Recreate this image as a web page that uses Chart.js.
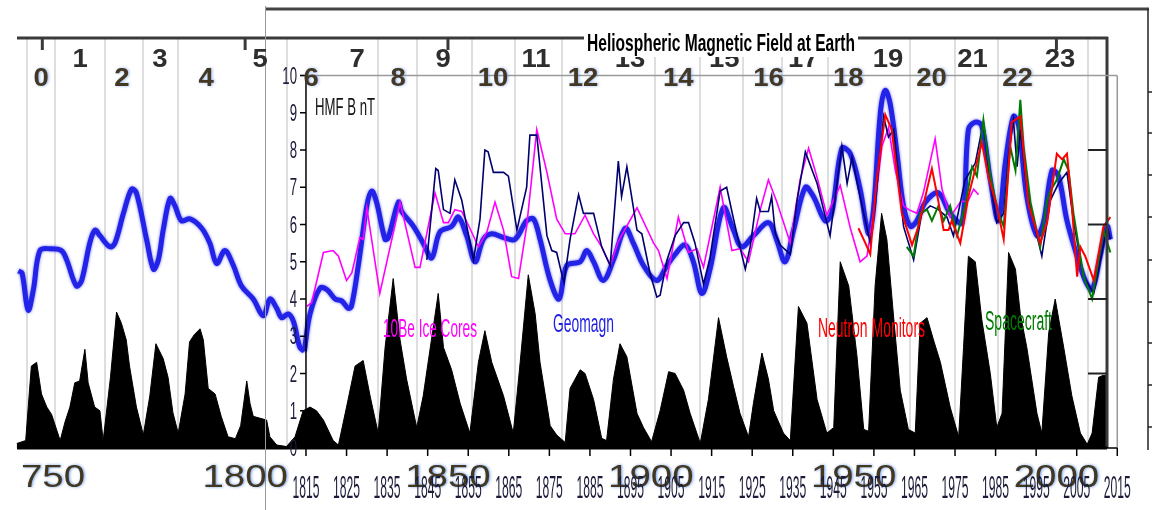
<!DOCTYPE html>
<html lang="en">
<head>
  <meta charset="UTF-8" />
  <title>Heliospheric Magnetic Field at Earth</title>
  <script src="https://cdn.jsdelivr.net/npm/chart.js"></script>
  <style>
    html, body { margin: 0; padding: 0; background: #fff; }
    canvas { display: block; }
  </style>
</head>
<body>
  <canvas id="hmfChart" width="1152" height="510"></canvas>

  <script>
    // ---- data (years, and values on the HMF nT axis) ----

    // sunspot activity, drawn as the black area (scaled onto the nT axis)
    const sunspotYears = [1743.7, 1745.9, 1747.3, 1748.6, 1749.8, 1751.1, 1752.3, 1754.4, 1755.6, 1756.8,
      1758.0, 1759.2, 1760.5, 1761.3, 1762.9, 1764.2, 1765.0, 1766.8, 1768.3, 1769.5,
      1770.7, 1771.5, 1773.2, 1774.9, 1776.5, 1778.0, 1779.8, 1781.0, 1782.2, 1783.5,
      1785.2, 1786.3, 1787.5, 1788.9, 1789.7, 1790.9, 1792.6, 1794.1, 1795.8, 1797.6,
      1798.9, 1800.4, 1801.2, 1802.0, 1805.3, 1806.1, 1807.8, 1810.2, 1812.3, 1814.3,
      1816.0, 1817.6, 1819.3, 1821.7, 1823.0, 1825.0, 1827.1, 1829.1, 1830.8, 1832.8,
      1834.5, 1836.5, 1838.2, 1839.8, 1842.3, 1843.9, 1847.6, 1848.9, 1850.9, 1853.0,
      1855.4, 1857.5, 1859.1, 1860.8, 1863.7, 1866.1, 1867.8, 1869.8, 1871.5, 1872.7,
      1875.2, 1876.8, 1878.9, 1880.1, 1882.6, 1883.8, 1885.9, 1887.9, 1889.1, 1890.8,
      1892.4, 1894.1, 1896.6, 1898.2, 1900.2, 1902.3, 1904.4, 1906.0, 1908.1, 1909.7,
      1912.2, 1914.2, 1916.7, 1918.7, 1920.4, 1922.0, 1924.1, 1925.3, 1927.4, 1929.0,
      1930.3, 1932.7, 1934.4, 1936.4, 1938.5, 1941.0, 1943.4, 1945.1, 1946.7, 1948.8,
      1950.8, 1952.5, 1953.7, 1955.3, 1956.9, 1958.2, 1959.8, 1961.5, 1963.5, 1965.2,
      1966.4, 1968.1, 1969.7, 1971.4, 1973.8, 1975.9, 1977.1, 1978.3, 1980.0, 1981.6,
      1983.7, 1985.3, 1986.6, 1988.2, 1989.9, 1991.1, 1992.7, 1995.2, 1996.4, 1998.1,
      1999.7, 2001.8, 2003.8, 2005.9, 2007.6, 2008.8, 2010.4, 2011.5, 2012.2, 2012.25];
    const sunspotLevel = [0.12, 0.2, 2.2, 2.3, 1.45, 1.1, 0.9, 0.2, 0.7, 1.1,
      1.75, 1.8, 2.65, 1.75, 1.1, 1.0, 0.2, 1.9, 3.65, 3.35,
      2.9, 2.2, 1.1, 0.35, 1.4, 2.8, 2.4, 1.9, 0.95, 0.4,
      1.45, 2.85, 3.05, 3.2, 2.9, 1.6, 1.45, 0.85, 0.3, 0.25,
      0.6, 1.8, 1.2, 0.85, 0.75, 0.3, 0.08, 0.04, 0.3, 1.0,
      1.1, 1.0, 0.75, 0.2, 0.08, 1.1, 2.2, 2.35, 1.4, 0.4,
      2.7, 4.55, 2.9, 1.85, 0.55, 1.4, 4.15, 2.7, 2.1, 1.2,
      0.4, 2.3, 3.15, 2.3, 1.4, 0.4, 2.3, 4.65, 3.6, 2.3,
      0.6, 0.35, 0.15, 1.6, 2.1, 2.0, 1.3, 0.26, 0.2, 1.85,
      2.8, 2.45, 0.93, 0.55, 0.17, 1.0, 2.05, 2.0, 1.55, 0.93,
      0.13, 1.3, 3.5, 2.45, 1.65, 0.93, 0.3, 1.2, 2.55, 1.85,
      1.0, 0.4, 0.2, 3.8, 3.35, 1.3, 0.4, 0.55, 5.0, 4.35,
      2.5, 0.5, 0.45, 4.35, 6.3, 5.6, 3.6, 1.55, 0.5, 0.4,
      3.35, 3.5, 2.9, 2.3, 1.1, 0.3, 2.7, 5.15, 5.0, 3.45,
      2.0, 0.55, 0.93, 5.25, 4.8, 3.6, 2.7, 0.93, 0.4, 3.1,
      4.0, 2.7, 1.4, 0.4, 0.1, 0.4, 1.9, 1.95, 1.95, 0];

    // long reconstruction before 1815 (thick blue, left chart)
    const earlyYears = [1744.1, 1745.0, 1746.5, 1747.8, 1749.4, 1751.9, 1754.7, 1756.0, 1758.4, 1759.7,
      1761.7, 1763.0, 1764.2, 1766.7, 1767.9, 1770.0, 1772.0, 1773.2, 1775.7, 1777.4,
      1778.6, 1779.8, 1781.5, 1782.7, 1784.3, 1786.4, 1789.3, 1791.3, 1793.0, 1795.0,
      1797.1, 1799.1, 1802.0, 1804.5, 1806.1, 1807.8, 1809.0, 1810.6, 1811.9, 1813.5, 1814.6];
    const earlyHmf = [4.75, 4.7, 3.7, 4.25, 5.3, 5.35, 5.3, 5.05, 4.35, 4.5,
      5.5, 5.85, 5.7, 5.4, 5.5, 6.3, 6.95, 6.85, 5.6, 4.8,
      5.05, 5.85, 6.7, 6.5, 6.1, 6.15, 5.9, 5.5, 4.95, 5.3,
      4.9, 4.35, 4.0, 3.55, 4.0, 3.75, 3.5, 3.6, 3.4, 2.7, 2.6];

    // Geomagn (thick blue)
    const geomagnYears = [1814.6, 1816.0, 1818.5, 1820.2, 1822.2, 1823.8, 1825.4, 1826.2, 1827.9, 1830.0,
      1831.2, 1832.4, 1834.5, 1835.3, 1837.8, 1838.6, 1841.5, 1843.9, 1846.0, 1848.0,
      1850.9, 1852.6, 1854.6, 1856.7, 1858.7, 1860.8, 1863.7, 1866.5, 1869.4, 1871.1,
      1872.7, 1875.2, 1877.4, 1879.3, 1882.6, 1884.2, 1885.9, 1888.3, 1890.8, 1893.7,
      1895.7, 1898.2, 1901.5, 1904.0, 1906.0, 1908.5, 1910.5, 1912.6, 1914.6, 1917.9,
      1920.4, 1922.4, 1925.3, 1929.0, 1931.0, 1933.1, 1935.2, 1938.1, 1940.1, 1943.0,
      1944.6, 1947.1, 1949.2, 1951.6, 1953.7, 1954.9, 1956.6, 1957.8, 1959.0, 1960.7,
      1962.3, 1964.0, 1965.6, 1967.7, 1970.9, 1973.8, 1976.7, 1978.3, 1980.0, 1981.6,
      1983.7, 1985.7, 1987.4, 1989.4, 1990.7, 1992.7, 1995.2, 1996.8, 1998.9, 2000.5,
      2002.6, 2005.1, 2007.1, 2008.8, 2010.8, 2012.5, 2013.3];
    const geomagnHmf = [2.6, 3.6, 4.3, 4.25, 4.0, 3.95, 3.75, 3.8, 4.9, 6.5,
      6.9, 6.6, 5.6, 5.65, 6.6, 6.35, 5.95, 5.5, 5.1, 5.8,
      5.95, 6.2, 5.7, 5.0, 5.6, 5.75, 5.65, 5.6, 6.1, 6.15,
      5.6, 4.5, 4.0, 4.9, 5.0, 5.3, 5.0, 4.5, 5.05, 5.9,
      5.5, 4.9, 4.5, 4.9, 5.2, 5.45, 5.0, 4.15, 4.8, 6.45,
      5.85, 5.4, 5.7, 6.05, 5.6, 5.0, 5.85, 7.0, 6.75, 6.1,
      6.3, 8.05, 7.9, 6.95, 5.75, 6.4, 9.0, 9.6, 9.25, 7.9,
      6.5, 5.95, 6.1, 6.6, 6.85, 6.3, 6.05, 8.55, 8.75, 8.65,
      7.2, 6.1, 7.65, 8.9, 8.65, 6.75, 5.7, 6.05, 7.45, 7.3,
      6.1, 5.15, 4.5, 4.25, 5.15, 5.95, 5.6];

    // thin dark-blue geomagnetic series
    const geoRawYears = [1844.8, 1847.0, 1847.6, 1848.9, 1850.5, 1851.7, 1853.4, 1855.0, 1856.3, 1857.9,
      1859.1, 1859.9, 1861.2, 1863.7, 1864.9, 1867.0, 1869.4, 1870.2, 1871.9, 1874.4,
      1875.6, 1876.8, 1878.2, 1878.6, 1880.1, 1882.2, 1883.4, 1885.9, 1887.9, 1890.0,
      1892.0, 1892.8, 1894.1, 1896.6, 1897.8, 1899.8, 1901.5, 1902.3, 1904.0, 1906.0,
      1908.1, 1909.3, 1910.9, 1913.0, 1914.6, 1917.1, 1918.7, 1921.2, 1923.3, 1924.5,
      1926.1, 1927.0, 1929.0, 1929.8, 1930.7, 1931.9, 1934.4, 1936.0, 1938.1, 1941.0,
      1943.4, 1944.2, 1947.1, 1948.4, 1949.6, 1951.6, 1954.1, 1955.3, 1957.4, 1958.6,
      1959.9, 1962.3, 1964.8, 1966.8, 1968.9, 1970.9, 1973.0, 1974.6, 1977.5, 1980.0,
      1982.0, 1983.7, 1985.3, 1987.0, 1988.2, 1989.4, 1990.3, 1991.1, 1992.7, 1995.2,
      1996.4, 1998.5, 2000.5, 2002.6, 2004.2, 2006.7, 2009.2, 2012.5, 2013.3];
    const geoRawHmf = [5.05, 7.5, 7.45, 6.4, 6.3, 7.2, 6.65, 5.75, 5.05, 6.15,
      8.0, 7.95, 7.4, 7.4, 7.3, 5.85, 7.0, 8.4, 8.4, 5.7,
      5.3, 5.25, 4.6, 4.45, 5.6, 6.8, 6.3, 6.3, 5.4, 4.9,
      7.7, 6.75, 7.55, 5.85, 5.75, 4.7, 4.05, 4.1, 5.05, 5.7,
      6.05, 6.05, 5.5, 4.4, 5.1, 6.9, 7.0, 5.75, 4.8, 5.4,
      6.7, 6.35, 6.35, 6.75, 5.75, 5.45, 5.2, 6.6, 7.95, 7.1,
      6.05, 5.7, 8.1, 7.1, 7.8, 6.75, 5.5, 6.5, 8.9, 8.35,
      8.55, 5.95, 5.05, 6.3, 6.5, 6.4, 6.2, 5.7, 7.2, 7.65,
      8.75, 7.1, 6.05, 6.3, 7.85, 8.8, 7.55, 8.55, 6.95, 5.7,
      5.15, 6.65, 7.1, 7.4, 6.1, 4.6, 4.15, 5.95, 5.6];

    // 10Be Ice Cores (magenta)
    const beYears = [1815.2, 1816.4, 1819.3, 1821.7, 1823.0, 1825.0, 1826.3, 1828.3, 1829.1, 1830.0,
      1833.2, 1838.2, 1841.9, 1843.1, 1846.8, 1848.9, 1850.1, 1851.7, 1853.4, 1855.4,
      1857.5, 1859.6, 1861.6, 1863.7, 1865.7, 1867.4, 1869.4, 1871.9, 1874.4, 1876.8,
      1878.9, 1881.3, 1883.8, 1885.9, 1887.9, 1890.0, 1892.0, 1896.6, 1900.7, 1901.9,
      1904.0, 1906.8, 1909.3, 1911.4, 1913.0, 1917.1, 1920.0, 1922.0, 1924.1, 1927.0,
      1929.0, 1931.1, 1934.4, 1936.8, 1938.9, 1940.9, 1943.4, 1946.7, 1949.2, 1951.6,
      1953.3, 1955.3, 1957.0, 1958.6, 1960.3, 1962.3, 1963.6, 1965.6, 1967.2, 1970.1,
      1971.8, 1973.8, 1976.3, 1978.3, 1979.6, 1980.8];
    const beHmf = [3.8, 3.9, 5.25, 5.3, 5.15, 4.5, 4.7, 5.65, 5.6, 6.45,
      4.15, 6.6, 4.85, 4.85, 6.85, 6.05, 6.05, 6.4, 6.35, 5.9,
      5.4, 5.8, 6.6, 5.85, 4.6, 4.55, 5.95, 8.55, 7.4, 6.15,
      5.75, 5.75, 6.25, 5.75, 5.4, 4.9, 5.55, 6.45, 5.5, 5.3,
      4.55, 6.2, 5.25, 5.35, 4.85, 7.0, 5.3, 5.35, 5.0, 6.4,
      7.2, 6.6, 5.5, 7.2, 8.05, 7.3, 6.25, 7.05, 5.9, 5.0,
      5.15, 6.6, 8.1, 8.6, 7.45, 6.5, 6.4, 6.3, 6.85, 8.3,
      6.95, 6.2, 6.6, 6.65, 6.95, 6.8];

    // Neutron Monitors (red)
    const neutronYears = [1951.2, 1952.9, 1954.1, 1955.7, 1957.8, 1959.4, 1961.9, 1964.4, 1966.0, 1968.1,
      1969.3, 1970.5, 1972.2, 1973.4, 1974.2, 1976.3, 1978.3, 1981.6, 1983.3, 1985.3,
      1987.0, 1989.0, 1991.1, 1993.1, 1996.0, 1997.7, 2000.1, 2001.4, 2002.6, 2003.8,
      2005.1, 2005.9, 2007.1, 2009.2, 2011.6, 2013.3];
    const neutronHmf = [5.9, 5.5, 5.2, 7.2, 8.95, 8.55, 6.3, 5.45, 5.95, 6.95,
      7.5, 6.85, 5.85, 5.85, 6.1, 5.5, 6.75, 8.2, 7.25, 6.5,
      5.6, 8.75, 8.9, 6.55, 5.5, 6.05, 7.9, 7.75, 7.9, 6.5,
      4.6, 5.4, 5.15, 4.5, 5.95, 6.2];

    // Spacecraft (green)
    const spacecraftYears = [1963.1, 1964.8, 1966.4, 1968.1, 1969.3, 1970.9, 1972.2, 1973.8, 1975.5, 1977.5,
      1979.2, 1980.4, 1982.0, 1983.7, 1985.7, 1987.0, 1988.6, 1989.9, 1991.1, 1991.9,
      1993.6, 1996.0, 1997.7, 1998.5, 2000.1, 2001.8, 2003.0, 2004.2, 2006.7, 2008.8,
      2011.6, 2013.3];
    const spacecraftHmf = [5.4, 5.15, 6.3, 6.4, 6.1, 6.5, 6.1, 6.5, 5.7, 6.5,
      7.55, 7.3, 8.8, 7.3, 6.3, 5.95, 8.1, 7.45, 9.35, 8.1,
      6.6, 5.4, 6.65, 6.9, 7.2, 7.75, 7.45, 6.3, 4.6, 4.0,
      5.85, 5.25];

    // solar cycle numbers and where they sit
    const cycleNumbers = ['0', '1', '2', '3', '4', '5', '6', '7', '8', '9', '10', '11',
      '12', '13', '14', '15', '16', '17', '18', '19', '20', '21', '22', '23'];
    const cycleYears = [1749.7, 1759.3, 1769.6, 1779.0, 1790.4, 1803.7, 1816.3, 1827.6, 1837.7, 1848.8,
      1861.1, 1871.7, 1883.3, 1894.9, 1906.8, 1918.1, 1929.0, 1937.6, 1948.7, 1958.5,
      1969.2, 1979.3, 1990.4, 2000.9];

    // faint grid lines of the long chart (cycle minima)
    const minimaYears = [1746.2, 1753.1, 1765.4, 1774.8, 1783.4, 1810.3, 1832.8, 1842.4, 1855.9, 1866.5,
      1878.1, 1901.1, 1912.2, 1922.8, 1932.4, 1943.7, 1964.0, 1975.0, 1985.7, 2007.8];

    // axis labels
    const centuryLabels = ['1750', '1800', '1850', '1900', '1950', '2000'];
    const decadeLabels = ['1815', '1825', '1835', '1845', '1855', '1865', '1875', '1885', '1895', '1905',
      '1915', '1925', '1935', '1945', '1955', '1965', '1975', '1985', '1995', '2005', '2015'];
    const hmfTicks = [0, 1, 2, 3, 4, 5, 6, 7, 8, 9, 10];
    const rightAxisTicks = [2, 4, 6, 8];

    // ---- helpers ----
    const pts = (xs, ys) => xs.map((v, i) => ({ x: v, y: ys[i] }));
    const FONT = '"Liberation Sans", Arial, sans-serif';

    // draws text squeezed/stretched horizontally, either to a width or by a factor
    function drawText(ctx, text, x, y, o) {
      ctx.save();
      ctx.font = o.font;
      ctx.fillStyle = o.color || '#000';
      ctx.textBaseline = 'alphabetic';
      ctx.textAlign = o.align || 'left';
      let sx = o.sx || 1;
      if (o.width) sx = o.width / ctx.measureText(text).width;
      if (o.shadow) {
        ctx.shadowColor = o.shadow;
        ctx.shadowBlur = 3;
        ctx.shadowOffsetX = 1;
      }
      ctx.translate(x, y);
      ctx.scale(sx, 1);
      ctx.fillText(text, 0, 0);
      ctx.restore();
    }

    function line(ctx, x1, y1, x2, y2, color, w) {
      ctx.beginPath();
      ctx.strokeStyle = color;
      ctx.lineWidth = w;
      ctx.moveTo(x1, y1);
      ctx.lineTo(x2, y2);
      ctx.stroke();
    }

    // soft glow for the thick blue curves
    const glowPlugin = {
      id: 'glow',
      beforeDatasetDraw(chart, args) {
        const ds = chart.data.datasets[args.index];
        chart.ctx.save();
        if (ds.glow) {
          chart.ctx.shadowColor = 'rgba(40,40,255,0.7)';
          chart.ctx.shadowBlur = 3;
        }
      },
      afterDatasetDraw(chart) {
        chart.ctx.restore();
      }
    };

    const decorPlugin = {
      id: 'decor',
      beforeDatasetsDraw(chart) {
        const { ctx, scales: { x, y } } = chart;
        ctx.save();
        minimaYears.forEach(yr => {
          const px = Math.round(x.getPixelForValue(yr));
          line(ctx, px, 38, px, y.getPixelForValue(0), '#dedede', 2);
        });
        ctx.restore();
      },
      afterDatasetsDraw(chart) {
        const { ctx, scales: { x, y } } = chart;
        const base = y.getPixelForValue(0);
        const top10 = y.getPixelForValue(10);
        const xStart = x.getPixelForValue(1815);
        const xEnd = x.getPixelForValue(2015);
        ctx.save();

        // long chart frame
        line(ctx, 17, 38, 1108, 38, '#3a3a3a', 3);
        line(ctx, 1107, 37, 1107, base, '#3a3a3a', 3);
        line(ctx, 17, base, 1107, base, '#000', 3);
        rightAxisTicks.forEach(v => {
          const py = y.getPixelForValue(v);
          line(ctx, 1088, py, 1107, py, '#222', 2);
        });
        centuryLabels.forEach(t => {
          const px = x.getPixelForValue(+t);
          line(ctx, px, 38, px, 50, '#3a3a3a', 3);
        });

        // HMF chart frame
        line(ctx, 265, 9, 1149, 9, '#444', 3);
        line(ctx, 265.5, 6, 265.5, 510, '#9a9a9a', 1);
        line(ctx, 1148, 9, 1148, 450, '#222', 1.5);
        [92, 133, 175, 217, 260, 302, 343, 385, 427].forEach(py => line(ctx, 1148, py, 1152, py, '#222', 1.5));
        line(ctx, 300, top10, xEnd, top10, '#9a9a9a', 1.5);
        line(ctx, xEnd, top10, xEnd, base, '#9a9a9a', 1.5);
        line(ctx, xStart, top10, xStart, base, '#000', 1.5);
        line(ctx, xStart, base, xEnd, base, '#000', 1.5);
        hmfTicks.forEach(v => {
          const py = y.getPixelForValue(v);
          line(ctx, xStart - 6, py, xStart, py, '#000', 1.5);
        });
        decadeLabels.forEach(t => {
          const px = x.getPixelForValue(+t);
          line(ctx, px, base, px, base + 8, '#000', 1.5);
        });

        // big year labels of the long chart (cropped at its left edge)
        ctx.save();
        ctx.beginPath();
        ctx.rect(21, 0, 1152, 510);
        ctx.clip();
        centuryLabels.forEach(t => {
          drawText(ctx, t, x.getPixelForValue(+t), 487, {
            font: '32px ' + FONT, color: '#43371f', align: 'center', sx: 1.2,
            shadow: 'rgba(70,130,230,0.8)'
          });
        });
        ctx.restore();

        // decade tick labels
        decadeLabels.forEach(t => {
          drawText(ctx, t, x.getPixelForValue(+t), 498, {
            font: '31px ' + FONT, color: '#1c1c3a', align: 'center', width: 27
          });
        });

        // HMF axis labels
        hmfTicks.forEach(v => {
          drawText(ctx, String(v), xStart - 9, y.getPixelForValue(v) + 8, {
            font: '24px ' + FONT, color: '#1c1c3a', align: 'right', sx: 0.55
          });
        });

        // cycle numbers, odd ones on the upper row
        cycleNumbers.forEach((c, i) => {
          const odd = i % 2 === 1;
          drawText(ctx, c, x.getPixelForValue(cycleYears[i]), odd ? 67 : 86, {
            font: 'bold 25px ' + FONT, color: odd ? '#2e2e2e' : '#453823', align: 'center', sx: 1.1,
            shadow: odd ? null : 'rgba(70,130,230,0.6)'
          });
        });

        // title
        ctx.fillStyle = '#fff';
        ctx.fillRect(584, 28, 274, 29);
        drawText(ctx, 'Heliospheric Magnetic Field at Earth', 587, 51, {
          font: 'bold 24px ' + FONT, color: '#000', width: 268
        });

        drawText(ctx, 'HMF B nT', 315, 115, { font: '24px ' + FONT, color: '#111', width: 60 });

        // series labels
        drawText(ctx, '10Be Ice Cores', 383, 337, { font: '26px ' + FONT, color: '#ff00ff', width: 94 });
        drawText(ctx, 'Geomagn', 553, 332, { font: '26px ' + FONT, color: '#1e1ee6', width: 61 });
        drawText(ctx, 'Neutron Monitors', 818, 337, { font: '27px ' + FONT, color: '#ff0000', width: 107 });
        drawText(ctx, 'Spacecraft', 985, 330, { font: '27px ' + FONT, color: '#007a00', width: 67 });

        ctx.restore();
      }
    };

    const ctx = document.getElementById('hmfChart').getContext('2d');
    const hmfChart = new Chart(ctx, {
      type: 'line',
      data: {
        datasets: [
          {
            label: 'Neutron Monitors',
            data: pts(neutronYears, neutronHmf),
            borderColor: '#ff0000',
            borderWidth: 2
          },
          {
            label: 'Spacecraft',
            data: pts(spacecraftYears, spacecraftHmf),
            borderColor: '#007a00',
            borderWidth: 2
          },
          {
            label: 'Geomagn (thin)',
            data: pts(geoRawYears, geoRawHmf),
            borderColor: '#00006e',
            borderWidth: 1.6
          },
          {
            label: '10Be Ice Cores',
            data: pts(beYears, beHmf),
            borderColor: '#ff00ff',
            borderWidth: 1.6
          },
          {
            label: 'Geomagn',
            data: pts(geomagnYears, geomagnHmf),
            borderColor: '#2323e8',
            borderWidth: 5,
            tension: 0.35,
            glow: true
          },
          {
            label: 'Early HMF',
            data: pts(earlyYears, earlyHmf),
            borderColor: '#2323e8',
            borderWidth: 5,
            tension: 0.35,
            glow: true
          },
          {
            label: 'Sunspots',
            data: pts(sunspotYears, sunspotLevel),
            borderColor: '#000',
            backgroundColor: '#000',
            borderWidth: 1,
            fill: 'origin'
          }
        ]
      },
      options: {
        responsive: false,
        animation: false,
        layout: { padding: 0 },
        elements: { point: { radius: 0 }, line: { tension: 0 } },
        plugins: {
          legend: { display: false },
          tooltip: { enabled: false },
          title: { display: false }
        },
        scales: {
          x: { type: 'linear', min: 1739.57, max: 2023.56, display: false },
          y: { type: 'linear', min: -1.664, max: 12.027, display: false }
        }
      },
      plugins: [glowPlugin, decorPlugin]
    });
  </script>
</body>
</html>
